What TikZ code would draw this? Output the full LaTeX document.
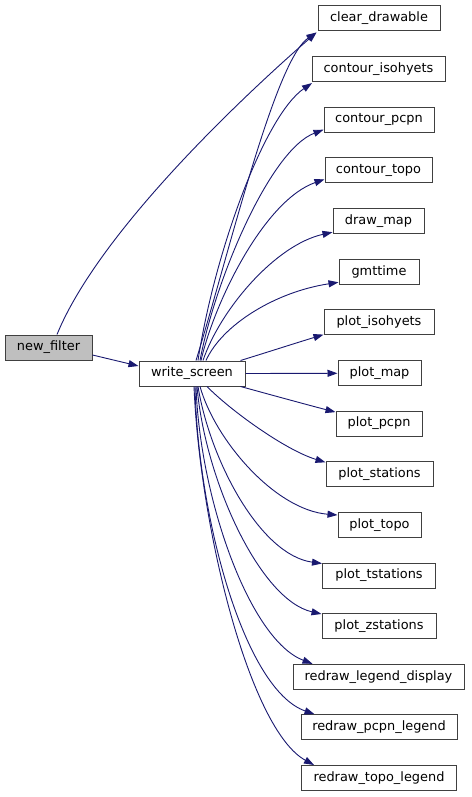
\documentclass[tikz,border=0pt]{standalone}
\usepackage{fontspec}
\setmainfont{DejaVu Sans}
\usetikzlibrary{arrows.meta}
\definecolor{edgeblue}{HTML}{191970}
\definecolor{boxline}{HTML}{404040}
\definecolor{hilite}{HTML}{BFBFBF}
\begin{document}
\begin{tikzpicture}[x=1pt,y=-1pt,
  fbox/.style={draw=boxline,line width=1pt,fill=white,minimum height=25pt,inner sep=0pt,
    font=\fontsize{12.9}{15}\selectfont,anchor=center},
  edge/.style={draw=edgeblue,line width=0.9pt,-{Triangle[length=10pt,width=7pt]}}]
\useasboundingbox (0,0) rectangle (471,797);
% nodes
\node[fbox,fill=hilite,minimum width=87pt] (nf) at (48.5,347.5) {new\_filter};
\node[fbox,minimum width=106pt] (ws) at (192,373.5) {write\_screen};
\node[fbox,minimum width=122pt] (cd) at (379,18.5) {clear\_drawable};
\node[fbox,minimum width=133pt] (ci) at (378.5,69.1) {contour\_isohyets};
\node[fbox,minimum width=110pt] (cp) at (379,119.7) {contour\_pcpn};
\node[fbox,minimum width=107pt] (ct) at (378.5,170.3) {contour\_topo};
\node[fbox,minimum width=91pt] (dm) at (378.5,221.2) {draw\_map};
\node[fbox,minimum width=80pt] (gm) at (379,271.8) {gmttime};
\node[fbox,minimum width=110pt] (pi) at (379,322.1) {plot\_isohyets};
\node[fbox,minimum width=83pt] (pm) at (379.5,373.3) {plot\_map};
\node[fbox,minimum width=86pt] (pp) at (379,423.6) {plot\_pcpn};
\node[fbox,minimum width=107pt] (ps) at (379.5,474.3) {plot\_stations};
\node[fbox,minimum width=83pt] (pt) at (379.5,525) {plot\_topo};
\node[fbox,minimum width=113pt] (pts) at (379,575.5) {plot\_tstations};
\node[fbox,minimum width=114pt] (pzs) at (379,626) {plot\_zstations};
\node[fbox,minimum width=171pt] (rld) at (378.5,676.8) {redraw\_legend\_display};
\node[fbox,minimum width=156pt] (rpl) at (379,727.2) {redraw\_pcpn\_legend};
\node[fbox,minimum width=155pt] (rtl) at (379,778) {redraw\_topo\_legend};
% edges
\draw[edge] ([xshift=8.5pt]nf.north) .. controls (101,227) and (256,85) .. ([xshift=-1pt,yshift=-1pt]cd.south west);
\draw[edge] ([yshift=-7.5pt]nf.east) -- ([yshift=7.5pt]ws.west);
\draw[edge] ([xshift=4pt]ws.north) .. controls (230,250) and (275,60) .. ([xshift=-1pt,yshift=-1pt]cd.south west);
\draw[edge] ([xshift=6pt]ws.north) .. controls (215,250) and (265,115) .. ([xshift=0.5pt,yshift=-1pt]ci.south west);
\draw[edge] ([xshift=8pt]ws.north) .. controls (215,280) and (270,150) .. ([yshift=3pt]cp.south west);
\draw[edge] ([xshift=9pt]ws.north) .. controls (215,300) and (265,200) .. ([yshift=4pt]ct.south west);
\draw[edge] ([xshift=11pt]ws.north) .. controls (220,310) and (275,245) .. ([yshift=2pt]dm.south west);
\draw[edge] ([xshift=14pt]ws.north) .. controls (222,325) and (275,292) .. ([yshift=2.5pt]gm.south west);
\draw[edge] ([xshift=-5pt]ws.north east) .. controls (268,352) and (296,343) .. ([yshift=0.5pt]pi.south west);
\draw[edge] (ws.east) -- (pm.west);
\draw[edge] ([xshift=-5pt]ws.south east) .. controls (268,394) and (308,405) .. ([yshift=-1.5pt]pp.north west);
\draw[edge] ([xshift=15pt]ws.south) .. controls (230,410) and (285,450) .. ([yshift=-1pt]ps.north west);
\draw[edge] ([xshift=8pt]ws.south) .. controls (215,440) and (275,510) .. ([yshift=-3pt]pt.north west);
\draw[edge] ([xshift=6pt]ws.south) .. controls (210,460) and (260,555) .. ([yshift=-1pt]pts.north west);
\draw[edge] ([xshift=5pt]ws.south) .. controls (205,480) and (260,600) .. ([yshift=-1pt]pzs.north west);
\draw[edge] ([xshift=4pt]ws.south) .. controls (200,500) and (250,640) .. ([xshift=20pt]rld.north west);
\draw[edge] ([xshift=3pt]ws.south) .. controls (198,520) and (245,690) .. ([xshift=14pt]rpl.north west);
\draw[edge] ([xshift=2pt]ws.south) .. controls (200,530) and (250,730) .. ([xshift=13pt]rtl.north west);
\end{tikzpicture}
\end{document}
